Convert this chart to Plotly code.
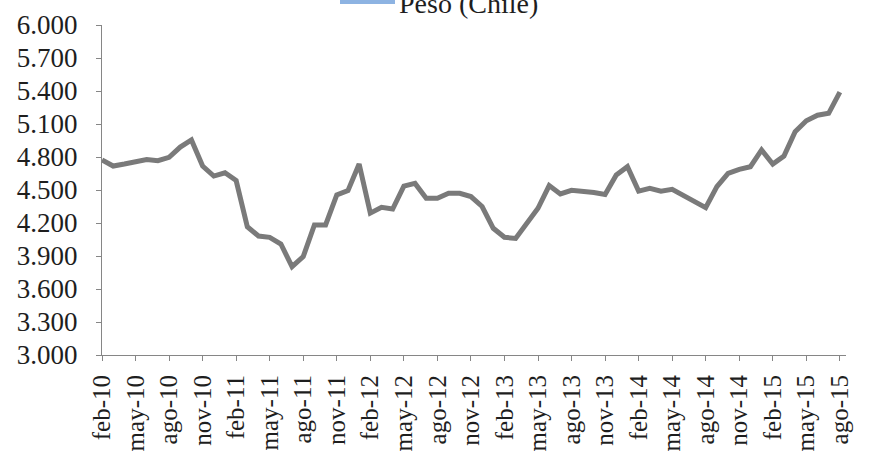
import plotly.graph_objects as go

# Monthly categories feb-10 .. ago-15
month_names = ["ene", "feb", "mar", "abr", "may", "jun", "jul", "ago", "sep", "oct", "nov", "dic"]
categories = []
for yr in range(2010, 2016):
    for m in range(12):
        if yr == 2010 and m < 1:
            continue
        if yr == 2015 and m > 7:
            continue
        categories.append(f"{month_names[m]}-{str(yr)[2:]}")

peso_chile = [
    4.773, 4.718, 4.736, 4.757, 4.777, 4.766, 4.797, 4.890, 4.955, 4.718,
    4.627, 4.657, 4.586, 4.166, 4.082, 4.070, 4.009, 3.803, 3.894, 4.182,
    4.182, 4.455, 4.494, 4.736, 4.290, 4.343, 4.327, 4.536, 4.560, 4.425,
    4.425, 4.470, 4.470, 4.440, 4.350, 4.152, 4.070, 4.060, 4.197, 4.334,
    4.540, 4.464, 4.497, 4.490, 4.477, 4.459, 4.636, 4.712, 4.490, 4.515,
    4.490, 4.506, 4.450, 4.390, 4.339, 4.530, 4.652, 4.688, 4.712, 4.864,
    4.736, 4.809, 5.030, 5.130, 5.180, 5.197, 5.390,
]

tick_labels = categories[::3]
y_ticks = [3.0 + 0.3 * i for i in range(11)]

series_name = "Peso (Chile)"
line_color = "#7a7a7a"
legend_color = "#8db3e2"
axis_color = "#868686"
font_family = "Liberation Serif"
text_color = "#1e1e1e"

fig = go.Figure()
fig.add_trace(go.Scatter(
    x=categories, y=peso_chile, mode="lines", name=series_name,
    line=dict(color=line_color, width=5), showlegend=False,
))

W, H = 873, 459
ml, mr, mt, mb = 102, 27, 25, 104
plot_h = H - mt - mb
plot_w = W - ml - mr

def py(p):
    return (H - mb - p) / plot_h

def px(p):
    return (p - ml) / plot_w

# Legend (partially cut off at top, as in the reference)
fig.add_shape(type="rect", xref="paper", yref="paper",
              x0=px(340), x1=px(395), y0=py(4), y1=py(-4),
              fillcolor=legend_color, line=dict(width=0))
fig.add_annotation(xref="paper", yref="paper", x=px(397), y=py(4),
                   xanchor="left", yanchor="middle", showarrow=False,
                   text=series_name,
                   font=dict(family=font_family, size=28, color=text_color))

fig.update_layout(
    width=W, height=H,
    margin=dict(l=ml, r=mr, t=mt, b=mb, autoexpand=False),
    paper_bgcolor="white", plot_bgcolor="white",
    font=dict(family=font_family, size=27, color=text_color),
    showlegend=False,
)
fig.update_xaxes(
    type="category", range=[0, len(categories) - 1 + 0.55],
    tickmode="array", tickvals=tick_labels, ticktext=tick_labels,
    tickangle=-90, ticks="outside", ticklen=5, tickcolor=axis_color,
    tickfont=dict(size=25),
    showline=True, linecolor=axis_color, linewidth=1,
    showgrid=False, zeroline=False, ticklabelstandoff=4,
)
fig.update_yaxes(
    range=[3.0, 6.0], tickmode="array", tickvals=y_ticks,
    tickformat=".3f", ticks="outside", ticklen=5, tickcolor=axis_color,
    showline=True, linecolor=axis_color, linewidth=1,
    showgrid=False, zeroline=False, ticklabelstandoff=13,
)

fig.write_html(
    "out.html",
    config={"displayModeBar": False},
    post_script="document.body.style.margin='0px';document.body.style.overflow='hidden';",
)
